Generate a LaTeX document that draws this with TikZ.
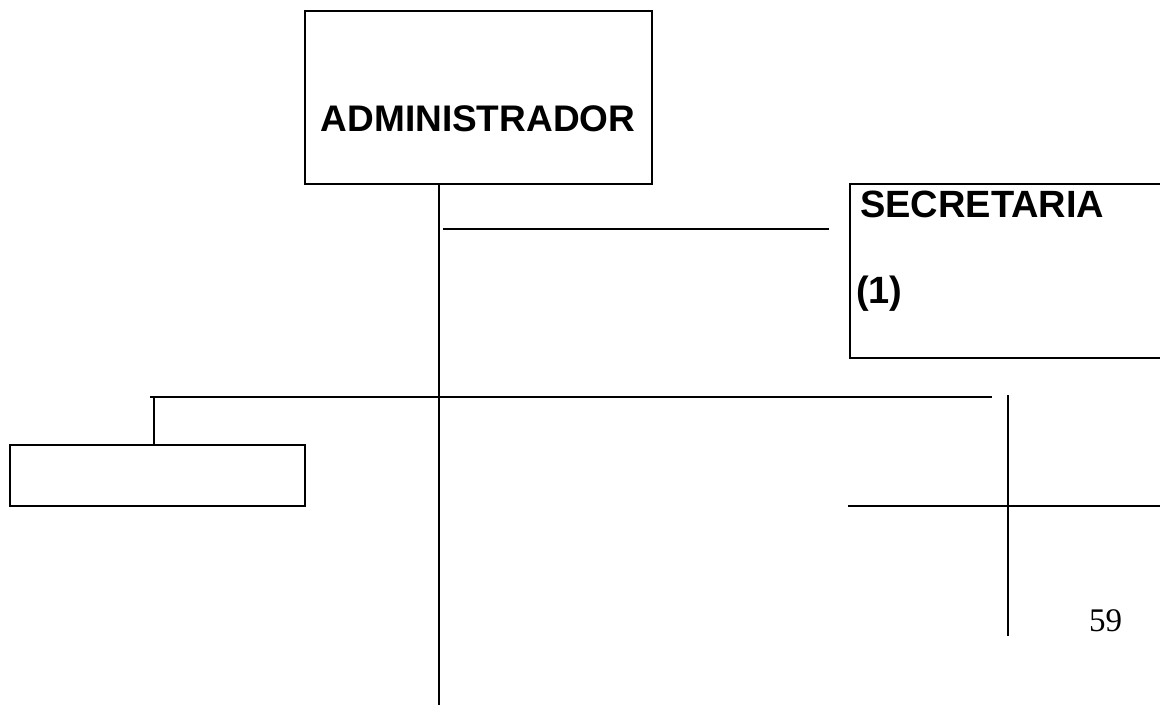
\documentclass[tikz,border=0pt]{standalone}
\usepackage{fontspec}
\setmainfont{Liberation Sans}
\newfontfamily\seriffont{Liberation Serif}
\begin{document}
\begin{tikzpicture}[x=1pt,y=-1pt,
  box/.style={draw=black,line width=2pt,rectangle,inner sep=0pt},
  conn/.style={draw=black,line width=2pt},
  admtext/.style={font=\fontsize{37}{40}\selectfont\bfseries,inner sep=0pt},
  sectext/.style={font=\fontsize{38}{42}\selectfont\bfseries,inner sep=0pt}]
\useasboundingbox (0,0) rectangle (1160,706);
\clip (0,0) rectangle (1160,706);
% boxes
\node[box,minimum width=347pt,minimum height=173pt] (admin) at (478.5,97.5) {};
\node[admtext,anchor=base] (admintext) at (478,132) {ADMINISTRADOR};
\node[box,minimum width=320pt,minimum height=174pt] (secre) at (1010,271) {};
\node[sectext,anchor=base west] (secretext) at (860,218) {SECRETARIA};
\node[sectext,anchor=base west] (secrenum) at (856,303) {(1)};
\node[box,minimum width=295pt,minimum height=61pt] (left) at (157.5,475.5) {};
\node[anchor=base west,inner sep=0pt,font=\seriffont\fontsize{33}{36}\selectfont] (page) at (1089,631) {59};
% coordinates
\coordinate (vbot) at (439,705);
\coordinate (s1) at (443,229);
\coordinate (s2) at (829,229);
\coordinate (h1) at (150,397);
\coordinate (h2) at (992,397);
\coordinate (t1) at (154,397);
\coordinate (r1) at (1008,395);
\coordinate (r2) at (1008,636);
\coordinate (q1) at (848,506);
\coordinate (q2) at (1160,506);
% connectors
\draw[conn] (vbot |- admin.south) -- (vbot);
\draw[conn] (s1) -- (s2);
\draw[conn] (h1) -- (h2);
\draw[conn] (t1) -- (t1 |- left.north);
\draw[conn] (r1) -- (r2);
\draw[conn] (q1) -- (q2);
\end{tikzpicture}
\end{document}
